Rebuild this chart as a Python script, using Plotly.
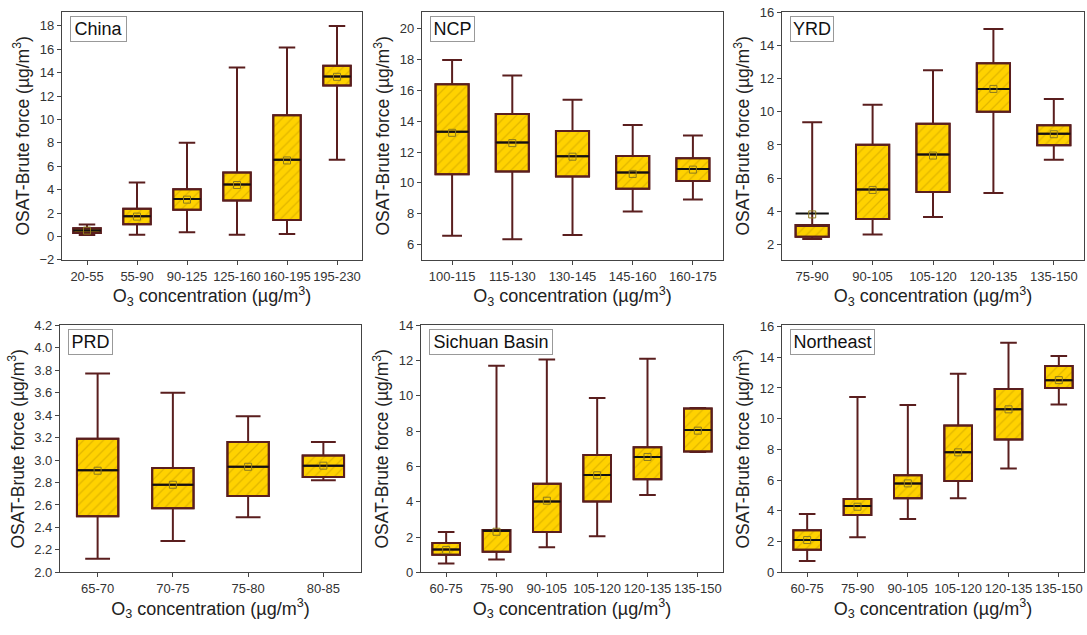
import plotly.graph_objects as go
from plotly.subplots import make_subplots

# ---------------- data ----------------
china_cat = ["20-55", "55-90", "90-125", "125-160", "160-195", "195-230"]
china_low = [0.12, 0.15, 0.36, 0.14, 0.22, 6.57]
china_q1 = [0.30, 1.05, 2.29, 3.07, 1.41, 12.90]
china_med = [0.52, 1.74, 3.20, 4.45, 6.57, 13.68]
china_q3 = [0.70, 2.37, 4.04, 5.47, 10.36, 14.59]
china_high = [1.03, 4.61, 8.02, 14.45, 16.15, 18.00]
china_mean = [0.50, 1.70, 3.15, 4.40, 6.50, 13.65]

ncp_cat = ["100-115", "115-130", "130-145", "145-160", "160-175"]
ncp_low = [6.57, 6.34, 6.61, 8.14, 8.92]
ncp_q1 = [10.56, 10.73, 10.41, 9.62, 10.12]
ncp_med = [13.32, 12.62, 11.72, 10.67, 10.90]
ncp_q3 = [16.40, 14.47, 13.36, 11.74, 11.59]
ncp_high = [17.98, 16.97, 15.40, 13.76, 13.08]
ncp_mean = [13.25, 12.58, 11.70, 10.58, 10.86]

yrd_cat = ["75-90", "90-105", "105-120", "120-135", "135-150"]
yrd_low = [2.31, 2.59, 3.65, 5.10, 7.10]
yrd_q1 = [2.45, 3.53, 5.16, 10.01, 7.99]
yrd_med = [3.85, 5.30, 7.42, 11.39, 8.68]
yrd_q3 = [3.16, 8.01, 9.28, 12.94, 9.19]
yrd_high = [9.38, 10.44, 12.52, 15.02, 10.78]
yrd_mean = [3.80, 5.28, 7.36, 11.39, 8.65]

prd_cat = ["65-70", "70-75", "75-80", "80-85"]
prd_low = [2.12, 2.28, 2.49, 2.82]
prd_q1 = [2.50, 2.57, 2.68, 2.85]
prd_med = [2.91, 2.78, 2.94, 2.95]
prd_q3 = [3.19, 2.93, 3.16, 3.04]
prd_high = [3.77, 3.60, 3.39, 3.16]
prd_mean = [2.905, 2.78, 2.94, 2.95]

sc_cat = ["60-75", "75-90", "90-105", "105-120", "120-135", "135-150"]
sc_low = [0.50, 0.72, 1.42, 2.05, 4.38, 6.82]
sc_q1 = [1.00, 1.16, 2.29, 4.01, 5.28, 6.85]
sc_med = [1.29, 2.35, 4.01, 5.52, 6.54, 8.07]
sc_q3 = [1.66, 2.40, 5.02, 6.65, 7.09, 9.28]
sc_high = [2.29, 11.71, 12.06, 9.88, 12.10, 9.32]
sc_mean = [1.27, 2.30, 4.06, 5.50, 6.54, 8.03]

ne_cat = ["60-75", "75-90", "90-105", "105-120", "120-135", "135-150"]
ne_low = [0.74, 2.29, 3.47, 4.82, 6.76, 10.93]
ne_q1 = [1.47, 3.73, 4.82, 5.94, 8.65, 12.00]
ne_med = [2.10, 4.32, 5.79, 7.81, 10.61, 12.51]
ne_q3 = [2.74, 4.78, 6.32, 9.56, 11.94, 13.43]
ne_high = [3.79, 11.41, 10.90, 12.93, 14.95, 14.08]
ne_mean = [2.10, 4.27, 5.79, 7.81, 10.61, 12.51]

panels = [
    ("China", china_cat, china_low, china_q1, china_med, china_q3, china_high, china_mean),
    ("NCP", ncp_cat, ncp_low, ncp_q1, ncp_med, ncp_q3, ncp_high, ncp_mean),
    ("YRD", yrd_cat, yrd_low, yrd_q1, yrd_med, yrd_q3, yrd_high, yrd_mean),
    ("PRD", prd_cat, prd_low, prd_q1, prd_med, prd_q3, prd_high, prd_mean),
    ("Sichuan Basin", sc_cat, sc_low, sc_q1, sc_med, sc_q3, sc_high, sc_mean),
    ("Northeast", ne_cat, ne_low, ne_q1, ne_med, ne_q3, ne_high, ne_mean),
]

# ---------------- style ----------------
W, H = 1087, 635
FILL = "#FFD200"
HATCH = "#C39A00"
EDGE = "#5A1E1E"
FONT = "Liberation Sans, Arial, sans-serif"

y_ranges = [[-2, 19.2], [5, 21.1], [1.05, 16.05], [2, 4.2001], [0, 14.001], [0, 16.08]]
y_dticks = [2, 2, 2, 0.2, 2, 2]
label_w = [57, 45, 44, 45, 124, 85]

# plot-area pixel boxes (left, right, top, bottom)
px_boxes = [
    (62, 362, 5, 259), (422, 723, 5, 259), (782, 1084, 5, 259),
    (60, 361, 326, 579), (421, 723, 326, 579), (782, 1084, 326, 579),
]

fig = make_subplots(rows=2, cols=3)

for i, (name, cat, low, q1, med, q3, high, mean) in enumerate(panels):
    r, c = i // 3 + 1, i % 3 + 1
    bw = 0.55
    # median clipped into the box only for the outline/whisker trace (plotly needs q1<=median<=q3)
    med_in = [min(max(m, a), b) for m, a, b in zip(med, q1, q3)]
    # hatched box body
    fig.add_trace(go.Bar(
        x=cat, y=[b - a for a, b in zip(q1, q3)], base=q1, width=bw,
        marker=dict(color=FILL, line=dict(color=EDGE, width=2),
                    pattern=dict(shape="/", fgcolor=HATCH, bgcolor=FILL, size=7, solidity=0.18)),
        hoverinfo="skip", showlegend=False), row=r, col=c)
    # whiskers + outline
    fig.add_trace(go.Box(
        x=cat, q1=q1, median=med_in, q3=q3, lowerfence=low, upperfence=high,
        width=bw, whiskerwidth=0.6, fillcolor="rgba(0,0,0,0)",
        line=dict(color=EDGE, width=2), boxpoints=False,
        hoverinfo="skip", showlegend=False), row=r, col=c)
    # black median line
    fig.add_trace(go.Box(
        x=cat, q1=med, median=med, q3=med, lowerfence=med, upperfence=med,
        width=bw, whiskerwidth=0, fillcolor="rgba(0,0,0,0)",
        line=dict(color="#111111", width=2), boxpoints=False,
        hoverinfo="skip", showlegend=False), row=r, col=c)
    # mean marker
    fig.add_trace(go.Scatter(
        x=cat, y=mean, mode="markers",
        marker=dict(symbol="square-open", size=7, color="#8C7A1E", line=dict(width=1)),
        hoverinfo="skip", showlegend=False), row=r, col=c)

    L, R, T, B = px_boxes[i]
    xa = "xaxis" if i == 0 else f"xaxis{i+1}"
    ya = "yaxis" if i == 0 else f"yaxis{i+1}"
    fig.layout[xa].update(
        domain=[L / W, R / W], type="category", range=[-0.5, len(cat) - 0.5],
        showline=True, mirror=True, linecolor="#444444", linewidth=1.2,
        ticks="outside", ticklen=4, tickcolor="#444444", showgrid=False, zeroline=False,
        tickfont=dict(family=FONT, size=13, color="#333333"),
        title=dict(text="O<sub>3</sub> concentration (µg/m<sup>3</sup>)",
                   font=dict(family=FONT, size=18, color="#222222"), standoff=1),
    )
    fig.layout[ya].update(
        domain=[1 - B / H, 1 - T / H], range=y_ranges[i], dtick=y_dticks[i], tick0=0,
        tickformat=".1f" if i == 3 else None,
        showline=True, mirror=True, linecolor="#444444", linewidth=1.2,
        ticks="outside", ticklen=4, tickcolor="#444444", showgrid=False, zeroline=False,
        tickfont=dict(family=FONT, size=13, color="#333333"),
        title=dict(text="OSAT-Brute force (µg/m<sup>3</sup>)",
                   font=dict(family=FONT, size=17.5, color="#222222"), standoff=5),
    )
    xref = "x domain" if i == 0 else f"x{i+1} domain"
    yref = "y domain" if i == 0 else f"y{i+1} domain"
    fig.add_annotation(
        x=0, y=1, xref=xref, yref=yref, xanchor="left", yanchor="top",
        xshift=8, yshift=-4, text=name, showarrow=False,
        font=dict(family=FONT, size=18, color="#111111"),
        bgcolor="white", bordercolor="#999999", borderwidth=1, borderpad=1,
        width=label_w[i] - 4, height=22, align="center",
    )

fig.update_layout(
    width=W, height=H, margin=dict(l=0, r=0, t=0, b=0),
    paper_bgcolor="white", plot_bgcolor="white", showlegend=False,
    barmode="overlay", boxmode="overlay",
    font=dict(family=FONT),
)

fig.write_html("out.html")
